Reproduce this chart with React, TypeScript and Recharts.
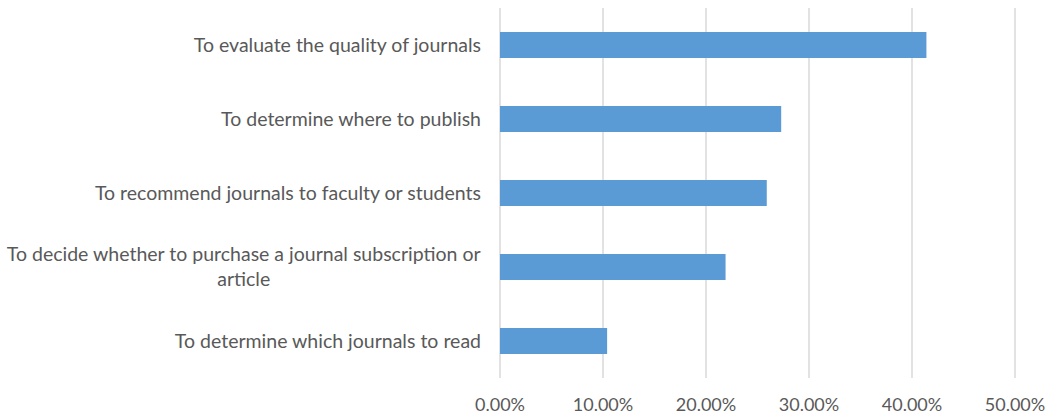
import { Bar, BarChart, CartesianGrid, XAxis, YAxis } from "recharts";

const reasons = [
  "To evaluate the quality of journals",
  "To determine where to publish",
  "To recommend journals to faculty or students",
  "To decide whether to purchase a journal subscription or article",
  "To determine which journals to read",
];
const shares = [0.414, 0.273, 0.259, 0.219, 0.104];
const xTicks = [0, 0.1, 0.2, 0.3, 0.4, 0.5];

const data = reasons.map((name, i) => ({ name, value: shares[i] }));

const FONT = "Lato, 'Open Sans', sans-serif";
const CAT_SIZE = 19.5;
const TICK_SIZE = 18;
const TEXT = "#595959";

let ctx: CanvasRenderingContext2D | null = null;
function measure(s: string) {
  if (!ctx) ctx = document.createElement("canvas").getContext("2d");
  if (!ctx) return s.length * 8;
  ctx.font = `${CAT_SIZE}px Lato`;
  return ctx.measureText(s).width;
}

function wrap(label: string, maxWidth: number) {
  const words = label.split(" ");
  const lines: string[] = [];
  let cur = "";
  for (const w of words) {
    const next = cur ? cur + " " + w : w;
    if (cur && measure(next) > maxWidth) {
      lines.push(cur);
      cur = w;
    } else {
      cur = next;
    }
  }
  if (cur) lines.push(cur);
  return lines;
}

function CategoryTick(props: any) {
  const { x, y, payload } = props;
  const lines = wrap(payload.value, 490);
  if (lines.length === 1) {
    return (
      <text x={x} y={y} dy="0.35em" textAnchor="end" fill={TEXT} fontSize={CAT_SIZE} fontFamily={FONT}>
        {lines[0]}
      </text>
    );
  }
  const widest = Math.max(...lines.map(measure));
  const cx = x - widest / 2;
  const lh = 25;
  const top = y - ((lines.length - 1) * lh) / 2;
  return (
    <text textAnchor="middle" fill={TEXT} fontSize={CAT_SIZE} fontFamily={FONT}>
      {lines.map((l, i) => (
        <tspan key={i} x={cx} y={top + i * lh} dy="0.35em">
          {l}
        </tspan>
      ))}
    </text>
  );
}

export default function App() {
  return (
    <>
      <style>{"body{margin:0}"}</style>
      <BarChart
        width={1050}
        height={417}
        data={data}
        layout="vertical"
        margin={{ top: 8, right: 35, left: 0, bottom: 0 }}
        barCategoryGap={0}
      >
        <CartesianGrid horizontal={false} stroke="#d9d9d9" strokeWidth={1.5} />
        <XAxis
          type="number"
          domain={[0, 0.5]}
          ticks={xTicks}
          tickFormatter={(v: number) => `${(v * 100).toFixed(2)}%`}
          axisLine={false}
          tickLine={false}
          height={39}
          tickMargin={14}
          tick={{ fill: TEXT, fontSize: TICK_SIZE, fontFamily: FONT }}
          interval={0}
        />
        <YAxis
          type="category"
          dataKey="name"
          width={500}
          axisLine={false}
          tickLine={false}
          tickSize={0}
          tickMargin={19}
          tick={<CategoryTick />}
          interval={0}
        />
        <Bar dataKey="value" fill="#5b9bd5" barSize={26} isAnimationActive={false} />
      </BarChart>
    </>
  );
}
